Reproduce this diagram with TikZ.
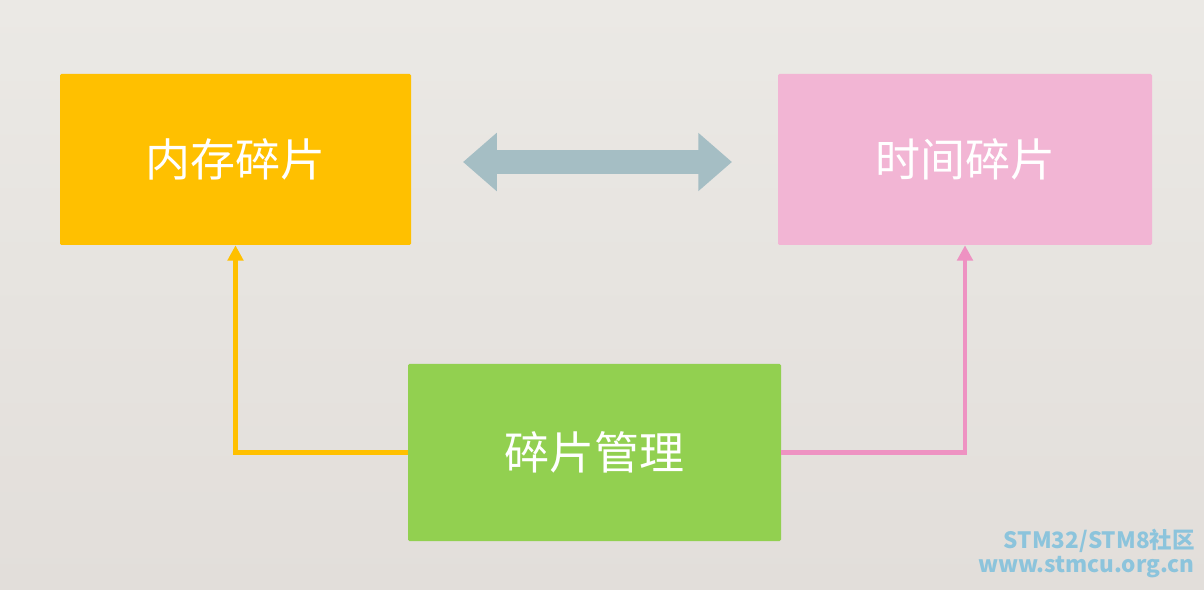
\documentclass[tikz,border=0pt]{standalone}
\usepackage{fontspec}
\newfontfamily\cjk{Noto Sans CJK SC}
\usetikzlibrary{arrows.meta}
\definecolor{memyellow}{HTML}{FFC000}
\definecolor{timepink}{HTML}{F2B5D4}
\definecolor{mgrgreen}{HTML}{92D050}
\definecolor{linkgray}{HTML}{A5BEC4}
\definecolor{pinkline}{HTML}{EE92C2}
\definecolor{bgtop}{HTML}{EBE9E5}
\definecolor{bgbot}{HTML}{E2DEDA}
\definecolor{wmblue}{HTML}{8CC4DC}

\begin{document}
\begin{tikzpicture}[x=0.025cm, y=-0.025cm]
    % Definizione stili
    \tikzset{
        block/.style={
            rectangle,
            fill=#1,
            inner sep=0pt,
            rounded corners=1pt,
            text=white,
            font=\cjk\fontsize{32}{36}\selectfont
        },
        link/.style={-{Triangle[width=11pt,length=11pt]}, line width=3.2pt, draw=#1}
    }

    % Sfondo
    \shade[top color=bgtop, bottom color=bgbot] (0,0) rectangle (1204,590);
    \useasboundingbox (0,0) rectangle (1204,590);

    % Blocchi
    \node[block=memyellow, minimum width=351*0.025cm, minimum height=171*0.025cm] at (235.5,159.5) (mem) {内存碎片};
    \node[block=timepink, minimum width=374*0.025cm, minimum height=171*0.025cm] at (965,159.5) (time) {时间碎片};
    \node[block=mgrgreen, minimum width=373*0.025cm, minimum height=177*0.025cm] at (594.5,452.5) (mgr) {碎片管理};

    % Freccia doppia
    \coordinate (la) at (463,162);
    \coordinate (lb) at (732,162);
    \draw[linkgray, line width=17pt, {Triangle[width=40pt,length=24pt]}-{Triangle[width=40pt,length=24pt]}] (la) -- (lb);

    % Frecce dal gestore
    \draw[link=memyellow] (mgr.west) -| (mem.south);
    \draw[link=pinkline] (mgr.east) -| (time.south);

    % Filigrana
    \node[anchor=south east, inner sep=0pt, text=wmblue, font=\cjk\bfseries\fontsize{16}{17}\selectfont, align=right] at (1195,578) (wm)
        {STM32/STM8社区\\www.stmcu.org.cn};
\end{tikzpicture}
\end{document}
